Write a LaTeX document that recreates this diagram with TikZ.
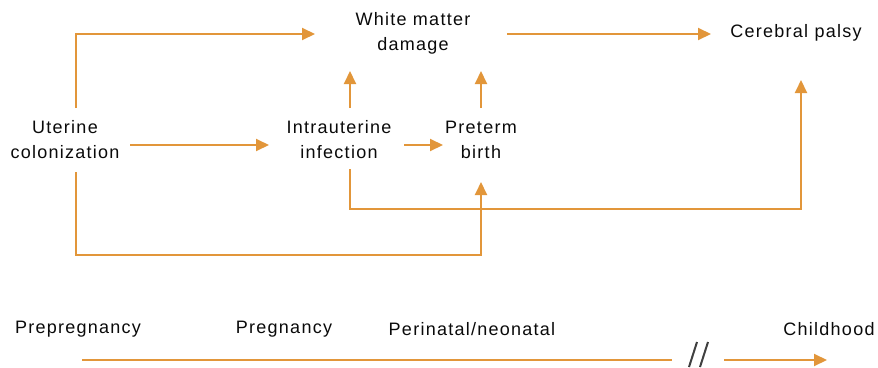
\documentclass[tikz,border=0pt]{standalone}
\usepackage{fontspec}
\setmainfont{Liberation Sans}[LetterSpace=7]
\usetikzlibrary{arrows.meta}
\definecolor{arrcol}{RGB}{226,150,58}
\definecolor{txtcol}{RGB}{10,10,10}
\begin{document}
\begin{tikzpicture}[x=1pt,y=1pt,
  lbl/.style={inner sep=0pt, align=center, text=txtcol, font=\fontsize{18}{25}\selectfont},
  arr/.style={draw=arrcol, line width=2pt, -{Triangle[length=13pt,width=12pt]}},
  plain/.style={draw=arrcol, line width=2pt},
  brk/.style={draw=black!75, line width=2pt}]
\useasboundingbox (0,0) rectangle (878,-367);
\node[lbl] (wmd) at (413,-33) {White matter\\damage};
\node[lbl] (cp) at (796,-33) {Cerebral palsy};
\node[lbl] (uc) at (65,-140) {Uterine\\colonization};
\node[lbl] (ii) at (339,-140) {Intrauterine\\infection};
\node[lbl] (pb) at (481,-140) {Preterm\\birth};
% connectors
\draw[arr] ([shift={(11,32)}]uc.center) |- ([shift={(-98,-1)}]wmd.center);
\draw[arr] ([shift={(65,-5)}]uc.center) -- ([shift={(-70,-5)}]ii.center);
\draw[arr] ([shift={(11,32)}]ii.center) -- ([shift={(-63,-38)}]wmd.center);
\draw[arr] ([shift={(65,-5)}]ii.center) -- ([shift={(-38,-5)}]pb.center);
\draw[arr] ([shift={(0,32)}]pb.center) -- ([shift={(68,-38)}]wmd.center);
\draw[arr] ([shift={(94,-1)}]wmd.center) -- ([shift={(-85,-1)}]cp.center);
\draw[arr] ([shift={(11,-29)}]ii.center) -- ++(0,-40) -| ([shift={(5,-47)}]cp.center);
\draw[arr] ([shift={(11,-32)}]uc.center) -- ++(0,-83) -| ([shift={(0,-42)}]pb.center);
% timeline
\node[lbl] (pp) at (78,-329) {Prepregnancy};
\node[lbl] (pg) at (284,-329) {Pregnancy};
\node[lbl] (pn) at (472,-329) {Perinatal/neonatal};
\node[lbl] (ch) at (829,-329) {Childhood};
\coordinate (brkL) at (672,-360);
\coordinate (brkR) at (724,-360);
\draw[plain] ([shift={(4,-31)}]pp.center) -- (brkL);
\draw[brk] (689,-367) -- (697,-342);
\draw[brk] (700,-367) -- (708,-342);
\draw[arr] (brkR) -- ([shift={(-2,-31)}]ch.center);
\end{tikzpicture}
\end{document}
